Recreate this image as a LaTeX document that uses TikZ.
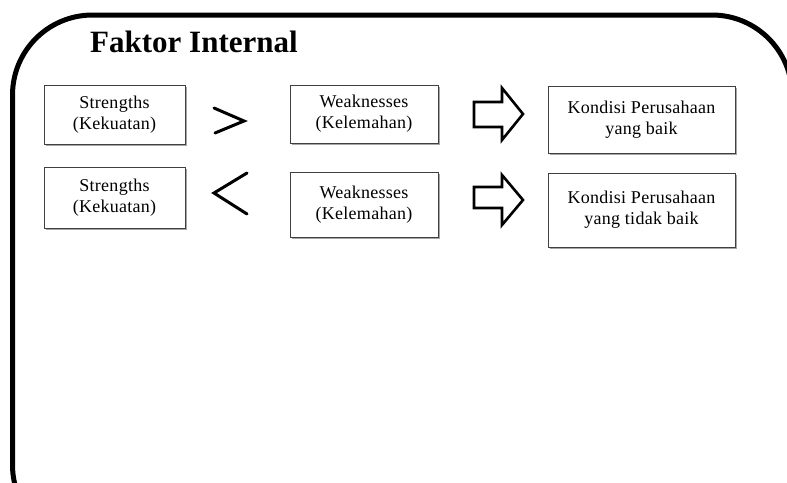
\documentclass[tikz,border=0pt]{standalone}
\usepackage{fontspec}
\setmainfont{Liberation Serif}
\newfontfamily\boxfont[LetterSpace=1.5]{Liberation Serif}
\usetikzlibrary{shadows}
\tikzset{
  framebox/.style={line width=5pt, rounded corners=80pt},
  infobox/.style={draw=black!75, line width=0.9pt, fill=white, inner sep=0pt,
    align=center, font=\boxfont\fontsize{18}{21}\selectfont,
    drop shadow={shadow xshift=1.6pt, shadow yshift=-1.6pt, fill=black!35, opacity=1}},
  cmpsign/.style={line width=3pt, line join=miter, line cap=round},
  blockarrow/.style={draw=black, fill=white, line width=2.6pt, line join=miter},
  titletext/.style={anchor=base west, inner sep=0pt, font=\fontsize{31}{36}\selectfont\bfseries}
}
\begin{document}
\begin{tikzpicture}[x=1pt,y=-1pt]
\useasboundingbox (0,0) rectangle (787,482);
\begin{scope}
\clip (0,0) rectangle (787,482);
\draw[framebox] (12.5,15) rectangle (792,545);
\end{scope}
\node[titletext] (title) at (90,52) {Faktor Internal};
% row 1
\node[infobox, minimum width=141pt, minimum height=59pt] (s1) at (114.5,114.5) {Strengths\\(Kekuatan)};
\node[infobox, minimum width=148pt, minimum height=58pt] (w1) at (364,114) {Weaknesses\\(Kelemahan)};
\node[infobox, minimum width=187pt, minimum height=67pt] (k1) at (641.5,119.5) {Kondisi Perusahaan\\yang baik};
% row 2
\node[infobox, minimum width=141pt, minimum height=61pt] (s2) at (114.5,197.5) {Strengths\\(Kekuatan)};
\node[infobox, minimum width=148pt, minimum height=65pt] (w2) at (364,204.5) {Weaknesses\\(Kelemahan)};
\node[infobox, minimum width=187pt, minimum height=74pt] (k2) at (641.5,210) {Kondisi Perusahaan\\yang tidak baik};
% comparison signs
\draw[cmpsign] (214,108) -- (244,121) -- (215,133);
\draw[cmpsign] (247,173) -- (214,193) -- (247,214);
% block arrows
\draw[blockarrow] (474,102) -- (502,102) -- (502,88) -- (523,114) -- (502,140) -- (502,127) -- (474,127) -- cycle;
\draw[blockarrow] (474,187) -- (502,187) -- (502,175) -- (523,200) -- (502,225) -- (502,208) -- (474,208) -- cycle;
\end{tikzpicture}
\end{document}
